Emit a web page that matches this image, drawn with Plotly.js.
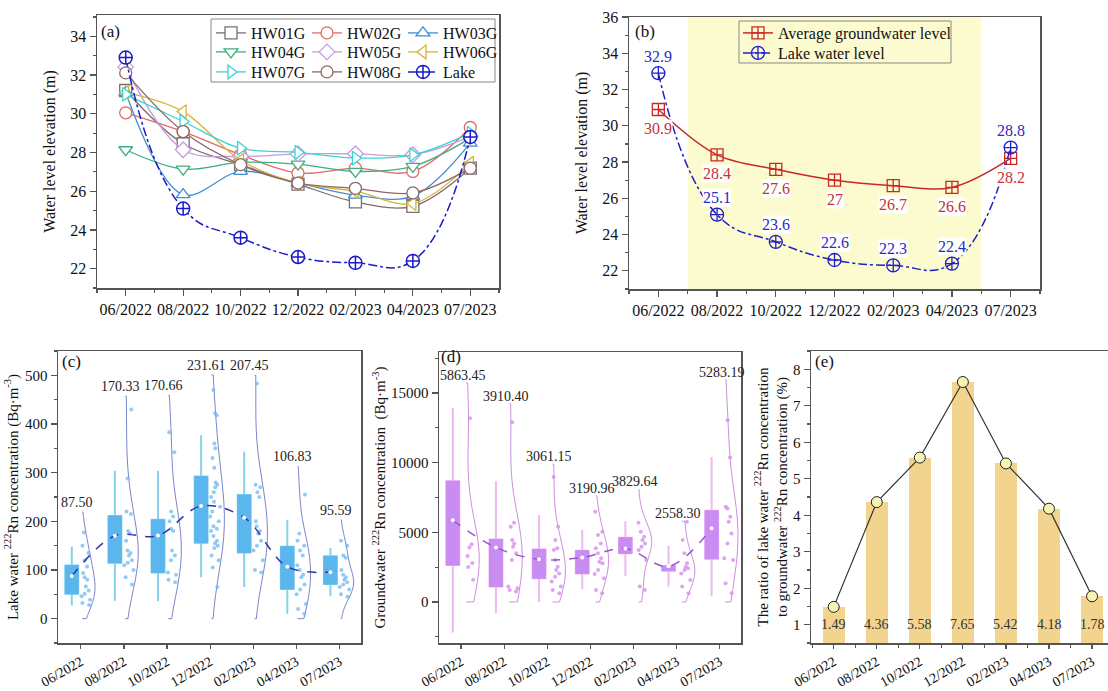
<!DOCTYPE html>
<html><head><meta charset="utf-8">
<script src="https://cdn.plot.ly/plotly-3.0.1.min.js"></script>
<style>html,body{margin:0;padding:0;background:#fff}#chart{width:1108px;height:691px}</style>
</head><body><div id="chart"></div>
<script>
// ---------- data ----------
const months = ['06/2022','08/2022','10/2022','12/2022','02/2023','04/2023','07/2023'];
// (a) well water levels (m)
const HW01G = [31.2, 28.45, 27.37, 26.37, 25.45, 25.22, 27.19];
const HW02G = [30.05, 29.08, 27.88, 26.94, 27.19, 27.02, 29.29];
const HW03G = [31.1, 25.82, 27.02, 26.42, 25.8, 25.74, 28.48];
const HW04G = [28.14, 27.14, 27.49, 27.4, 27.02, 27.28, 28.74];
const HW05G = [32.42, 28.14, 27.8, 27.93, 27.93, 27.88, 28.82];
const HW06G = [31.1, 30.11, 27.6, 26.42, 26.0, 25.36, 27.45];
const HW07G = [31.0, 29.6, 28.22, 28.0, 27.71, 27.88, 29.0];
const HW08G = [32.11, 29.08, 27.37, 26.42, 26.15, 25.91, 27.19];
const lakeLevel = [32.9, 25.1, 23.6, 22.6, 22.3, 22.4, 28.8];
// (b)
const avgGroundwater = [30.9, 28.4, 27.6, 27, 26.7, 26.6, 28.2];
// (c) lake water 222Rn samples (Bq/m3)
const lakeRnJun22 = [177, 150, 135, 120, 107, 94, 85, 80, 66, 58, 51, 46, 39, 32, 28];
const lakeRnAug22 = [430, 288, 220, 215, 180, 175, 160, 140, 135, 130, 120, 115, 110, 100, 85, 70];
const lakeRnOct22 = [383, 342, 220, 210, 200, 185, 180, 140, 130, 120, 95, 90, 80, 75];
const lakeRnDec22 = [470, 422, 418, 360, 350, 330, 310, 280, 275, 270, 260, 250, 240, 230, 220, 210, 200, 190, 185, 180, 170, 160, 155, 150, 145, 130, 120, 105, 65];
const lakeRnFeb23 = [483, 275, 270, 260, 250, 200, 190, 180, 175, 160, 150, 140, 120, 100, 95];
const lakeRnApr23 = [255, 175, 160, 150, 140, 130, 110, 100, 90, 85, 70, 60, 50, 30, 20, 10];
const lakeRnJul23 = [160, 150, 130, 125, 100, 90, 85, 80, 75, 70, 65, 60, 50, 45];
const lakeQ1 = [51, 115, 95, 156, 136, 61, 71];
const lakeQ3 = [109, 211, 203, 292, 254, 148, 128];
const lakeLow = [27, 37, 36, 85, 65, 10, 46];
const lakeHigh = [148, 304, 304, 377, 343, 203, 145];
const lakeMean = [87.50, 170.33, 170.66, 231.61, 207.45, 106.83, 95.59];
const lakeCurveTop = [219, 457, 459, 501, 500, 313, 203];
// (d) groundwater 222Rn samples (Bq/m3)
const gwRnJun22 = [13200, 4150, 3900, 3300, 2800, 2500, 1600];
const gwRnAug22 = [12900, 5680, 5400, 4440, 4200, 3960, 3490, 3010, 1100, 980, 860, 740];
const gwRnOct22 = [8980, 5400, 4440, 3850, 3730, 3010, 2530, 2290, 2050, 1815, 1460, 1100, 860, 620];
const gwRnDec22 = [6470, 5040, 4800, 4200, 3850, 3490, 3130, 2890, 2770, 2290, 2000, 1700, 860, 620];
const gwRnFeb23 = [5680, 5040, 4680, 4440, 4200, 3960, 3730, 3010, 1100, 860];
const gwRnApr23 = [5750, 4440, 3490, 2770, 2530, 2410, 2290, 2050, 1575, 1100, 620];
const gwRnJul23 = [13040, 10365, 6830, 6710, 6110, 5755, 4920, 4200, 3130, 3010, 1340, 620];
const gwQ1 = [2650, 1100, 1700, 2050, 3490, 2245, 3100];
const gwQ3 = [8670, 4490, 3770, 3680, 4610, 2580, 6540];
const gwLow = [-2200, -810, 0, 910, 1860, 1100, 400];
const gwHigh = [13920, 8670, 6230, 5160, 5800, 4040, 10410];
const gwMean = [5863.45, 3910.40, 3061.15, 3190.96, 3829.64, 2558.30, 5283.19];
const gwCurveTop = [15715, 14235, 9890, 7620, 8100, 5800, 15950];
// (e) ratio (%)
const ratio = [1.49, 4.36, 5.58, 7.65, 5.42, 4.18, 1.78];

// ---------- helpers ----------
const FONT = 'Liberation Serif, Times New Roman, serif';
const idx = months.map((m, i) => i);
const W = 1108, H = 691;
const px = v => v / W, py = v => 1 - v / H;
const sd = a => { const m = a.reduce((s, v) => s + v, 0) / a.length; return Math.sqrt(a.reduce((s, v) => s + (v - m) * (v - m), 0) / a.length); };

const traces = [];
// (a)
const wells = [
  ['HW01G', HW01G, '#7a6e70', 'square', 'legend'],
  ['HW02G', HW02G, '#e06a6a', 'circle', 'legend'],
  ['HW03G', HW03G, '#3f8fcf', 'triangle-up', 'legend'],
  ['HW04G', HW04G, '#3fae7f', 'triangle-down', 'legend2'],
  ['HW05G', HW05G, '#c79be0', 'diamond', 'legend2'],
  ['HW06G', HW06G, '#d7b33a', 'triangle-left', 'legend2'],
  ['HW07G', HW07G, '#3cd3d3', 'triangle-right', 'legend3'],
  ['HW08G', HW08G, '#8f6767', 'circle', 'legend3']
];
wells.forEach(([name, ys, col, sym, lg]) => {
  traces.push({type: 'scatter', mode: 'lines+markers', name, x: idx, y: ys, xaxis: 'x', yaxis: 'y', legend: lg,
    line: {color: col, width: 1.3, shape: 'spline', smoothing: 1},
    marker: {symbol: sym, size: 12, color: 'white', line: {color: col, width: 1.3}}});
});
traces.push({type: 'scatter', mode: 'lines+markers', name: 'Lake', x: idx, y: lakeLevel, xaxis: 'x', yaxis: 'y', legend: 'legend3',
  line: {color: '#1a1acc', width: 1.5, dash: 'dashdot', shape: 'spline', smoothing: 1.3},
  marker: {symbol: 'circle-cross', size: 13, color: 'white', line: {color: '#1a1acc', width: 1.5}}});
// (b)
traces.push({type: 'scatter', mode: 'lines+markers', name: 'Average groundwater level', x: idx, y: avgGroundwater, xaxis: 'x2', yaxis: 'y2', legend: 'legend4',
  line: {color: '#c82828', width: 1.5, shape: 'spline', smoothing: 1},
  marker: {symbol: 'square-cross', size: 12, color: 'rgba(255,255,255,0)', line: {color: '#c82828', width: 1.3}}});
traces.push({type: 'scatter', mode: 'lines+markers', name: 'Lake water level', x: idx, y: lakeLevel, xaxis: 'x2', yaxis: 'y2', legend: 'legend5',
  line: {color: '#2020c8', width: 1.5, dash: 'dashdot', shape: 'spline', smoothing: 1.3},
  marker: {symbol: 'circle-cross', size: 13, color: 'rgba(255,255,255,0)', line: {color: '#2020c8', width: 1.3}}});

// (c) & (d) box + half violin + points
function rainPanel(samples, q1, q3, lo, hi, mean, top, xa, ya, cols, boxOff, violOff) {
  samples.forEach((s, i) => {
    traces.push({type: 'violin', x0: i + violOff, y: s, xaxis: xa, yaxis: ya, showlegend: false,
      side: 'positive', width: 0.6, scalemode: 'width', spanmode: 'manual', span: [0, top[i]],
      bandwidth: sd(s) * 0.75, points: 'all', pointpos: 0.3, jitter: 0.45,
      marker: {color: cols.pt, size: 4}, line: {color: cols.curve, width: 1}, fillcolor: 'rgba(0,0,0,0)',
      box: {visible: false}, meanline: {visible: false}, hoverinfo: 'y'});
  });
  const bx = idx.map(i => i + boxOff);
  traces.push({type: 'box', x: bx, q1, q3, median: mean, lowerfence: lo, upperfence: hi, xaxis: xa, yaxis: ya,
    showlegend: false, width: 0.3, whiskerwidth: 0, boxpoints: false,
    fillcolor: 'rgba(0,0,0,0)', line: {color: cols.whisker, width: 2}});
  traces.push({type: 'box', x: bx, q1, q3, median: mean, lowerfence: q1, upperfence: q3, xaxis: xa, yaxis: ya,
    showlegend: false, width: 0.3, whiskerwidth: 0, boxpoints: false,
    fillcolor: cols.box, line: {color: cols.box, width: 1}});
  traces.push({type: 'scatter', mode: 'lines+markers', x: bx, y: mean, xaxis: xa, yaxis: ya, showlegend: false,
    line: {color: cols.mean, width: 1.5, dash: 'dash', shape: 'spline', smoothing: 1},
    marker: {color: 'white', size: 4}});
}
rainPanel([lakeRnJun22, lakeRnAug22, lakeRnOct22, lakeRnDec22, lakeRnFeb23, lakeRnApr23, lakeRnJul23],
  lakeQ1, lakeQ3, lakeLow, lakeHigh, lakeMean, lakeCurveTop, 'x3', 'y3',
  {pt: 'rgba(110,185,240,0.75)', curve: '#7a84cc', whisker: '#86d2ec', box: '#5cb6ee', mean: '#3434a8'}, -0.21, 0.03);
rainPanel([gwRnJun22, gwRnAug22, gwRnOct22, gwRnDec22, gwRnFeb23, gwRnApr23, gwRnJul23],
  gwQ1, gwQ3, gwLow, gwHigh, gwMean, gwCurveTop, 'x4', 'y4',
  {pt: 'rgba(215,140,235,0.8)', curve: '#cf8ee0', whisker: '#efb8f4', box: '#c88cf2', mean: '#9a58cc'}, -0.19, 0.12);

// (e)
traces.push({type: 'bar', x: idx, y: ratio, xaxis: 'x5', yaxis: 'y5', showlegend: false, width: 0.52,
  marker: {color: '#f2d48e', line: {width: 0}}});
traces.push({type: 'scatter', mode: 'lines+markers', x: idx, y: ratio, xaxis: 'x5', yaxis: 'y5', showlegend: false,
  line: {color: '#333', width: 1.2}, marker: {size: 11, color: '#f6f3b4', line: {color: '#222', width: 1}}});

// ---------- annotations ----------
const ann = [];
const lab = (t, x, y) => ann.push({text: t, xref: 'paper', yref: 'paper', x: px(x), y: py(y), xanchor: 'left', yanchor: 'middle', showarrow: false, font: {family: FONT, size: 17, color: '#111'}});
lab('(a)', 99, 31); lab('(b)', 633, 31); lab('(c)', 60, 362); lab('(d)', 439, 357); lab('(e)', 813, 362);
avgGroundwater.forEach((v, i) => ann.push({text: String(v), x: i, y: v, xref: 'x2', yref: 'y2', yshift: -19, showarrow: false,
  font: {family: FONT, size: 16, color: '#c83232'}, bgcolor: 'rgba(255,255,255,0.95)', borderpad: 0}));
lakeLevel.forEach((v, i) => ann.push({text: String(v), x: i, y: v, xref: 'x2', yref: 'y2', yshift: 17, showarrow: false,
  font: {family: FONT, size: 16, color: '#2a2ac8'}, bgcolor: 'rgba(255,255,255,0.95)', borderpad: 0}));
lakeMean.forEach((v, i) => ann.push({text: v.toFixed(2), x: i - 0.08, y: lakeCurveTop[i], xref: 'x3', yref: 'y3', yanchor: 'bottom', yshift: 0, showarrow: false,
  font: {family: FONT, size: 14, color: '#222'}}));
gwMean.forEach((v, i) => ann.push({text: v.toFixed(2), x: i + 0.04, y: gwCurveTop[i], xref: 'x4', yref: 'y4', yanchor: 'bottom', yshift: -2, showarrow: false,
  font: {family: FONT, size: 14, color: '#222'}}));
ratio.forEach((v, i) => ann.push({text: v.toFixed(2), x: i, y: 1, xref: 'x5', yref: 'y5', showarrow: false,
  font: {family: FONT, size: 14, color: '#333'}}));

// ---------- axes ----------
const LC = '#555';
function xax(domain, range, extra) {
  return Object.assign({domain, range, type: 'linear', tickmode: 'array', tickvals: idx, ticktext: months,
    ticks: 'outside', ticklen: 6, tickwidth: 1.2, tickcolor: LC, showline: true, linecolor: LC, linewidth: 1.5, mirror: true,
    showgrid: false, zeroline: false, tickfont: {family: FONT, size: 16, color: '#111'}}, extra || {});
}
function yax(domain, range, dtick, mdt, title, size, extra) {
  return Object.assign({domain, range, tick0: 0, dtick, ticks: 'outside', ticklen: 6, tickwidth: 1.2, tickcolor: LC,
    minor: {ticks: 'outside', ticklen: 3, dtick: mdt, tick0: 0, tickcolor: LC},
    showline: true, linecolor: LC, linewidth: 1.5, mirror: true, showgrid: false, zeroline: false,
    tickformat: 'd', tickfont: {family: FONT, size: size, color: '#111'},
    title: {text: title, font: {family: FONT, size: size, color: '#111'}}}, extra || {});
}
const minorX = {ticks: 'outside', ticklen: 3, tickmode: 'linear', tick0: 0.5, dtick: 1, tickcolor: LC};
const rotX = {tickangle: -30, ticklen: 4, tickfont: {family: FONT, size: 14, color: '#111'}};

const layout = {
  width: W, height: H, margin: {l: 0, r: 0, t: 0, b: 0}, paper_bgcolor: 'white', plot_bgcolor: 'white',
  font: {family: FONT, color: '#111'}, violinmode: 'overlay', boxmode: 'overlay', bargap: 0,
  xaxis: xax([px(97), px(499)], [-0.5, 6.5], {anchor: 'y', minor: minorX}),
  yaxis: yax([py(288), py(15)], [21, 35.1], 2, 1, 'Water level elevation (m)', 16, {anchor: 'x'}),
  xaxis2: xax([px(629), px(1040)], [-0.5, 6.5], {anchor: 'y2', minor: minorX}),
  yaxis2: yax([py(289), py(17)], [21, 36], 2, 1, 'Water level elevation (m)', 16, {anchor: 'x2'}),
  xaxis3: xax([px(58), px(361)], [-0.53, 6.5], Object.assign({anchor: 'y3'}, rotX)),
  yaxis3: yax([py(643), py(351)], [-50, 550], 100, 50, 'Lake water <sup>222</sup>Rn concentration (Bq·m<sup>-3</sup>)', 15, {anchor: 'x3'}),
  xaxis4: xax([px(439), px(741)], [-0.51, 6.49], Object.assign({anchor: 'y4'}, rotX)),
  yaxis4: yax([py(643), py(352)], [-2950, 17950], 5000, 2500, 'Groundwater <sup>222</sup>Rn concentration  (Bq·m<sup>-3</sup>)', 15, {anchor: 'x4'}),
  xaxis5: xax([px(811), 1], [-0.527, 6.37], Object.assign({anchor: 'y5', minor: minorX}, rotX)),
  yaxis5: yax([py(643), py(351)], [0.5, 8.5], 1, 0.5, 'The ratio of lake water <sup>222</sup>Rn concentration<br>to groundwater <sup>222</sup>Rn concentration (%)', 15,
    {anchor: 'x5', mirror: false}),
  shapes: [
    {type: 'rect', xref: 'x2', yref: 'y2 domain', x0: 0.5, x1: 5.5, y0: 0, y1: 1, fillcolor: '#fcfbcf', line: {width: 0}, layer: 'below'},
    {type: 'rect', xref: 'paper', yref: 'paper', x0: px(211), x1: px(495), y0: py(82), y1: py(19), fillcolor: 'white', line: {color: '#888', width: 1}, layer: 'below'},
    {type: 'rect', xref: 'paper', yref: 'paper', x0: px(739), x1: px(951), y0: py(63), y1: py(21), fillcolor: 'rgba(0,0,0,0)', line: {color: '#888', width: 1}, layer: 'above'}
  ],
  annotations: ann
};
const lgBase = {orientation: 'h', xanchor: 'left', yanchor: 'top', bgcolor: 'rgba(0,0,0,0)', borderwidth: 0,
  entrywidth: 51, entrywidthmode: 'pixels', font: {family: FONT, size: 16, color: '#111'}, itemclick: false};
layout.legend = Object.assign({}, lgBase, {x: px(211), y: py(16)});
layout.legend2 = Object.assign({}, lgBase, {x: px(211), y: py(35)});
layout.legend3 = Object.assign({}, lgBase, {x: px(211), y: py(55)});
layout.legend4 = Object.assign({}, lgBase, {x: px(738), y: py(16), entrywidth: 0});
layout.legend5 = Object.assign({}, lgBase, {x: px(738), y: py(36), entrywidth: 0});

Plotly.newPlot('chart', traces, layout, {staticPlot: true});
</script></body></html>
